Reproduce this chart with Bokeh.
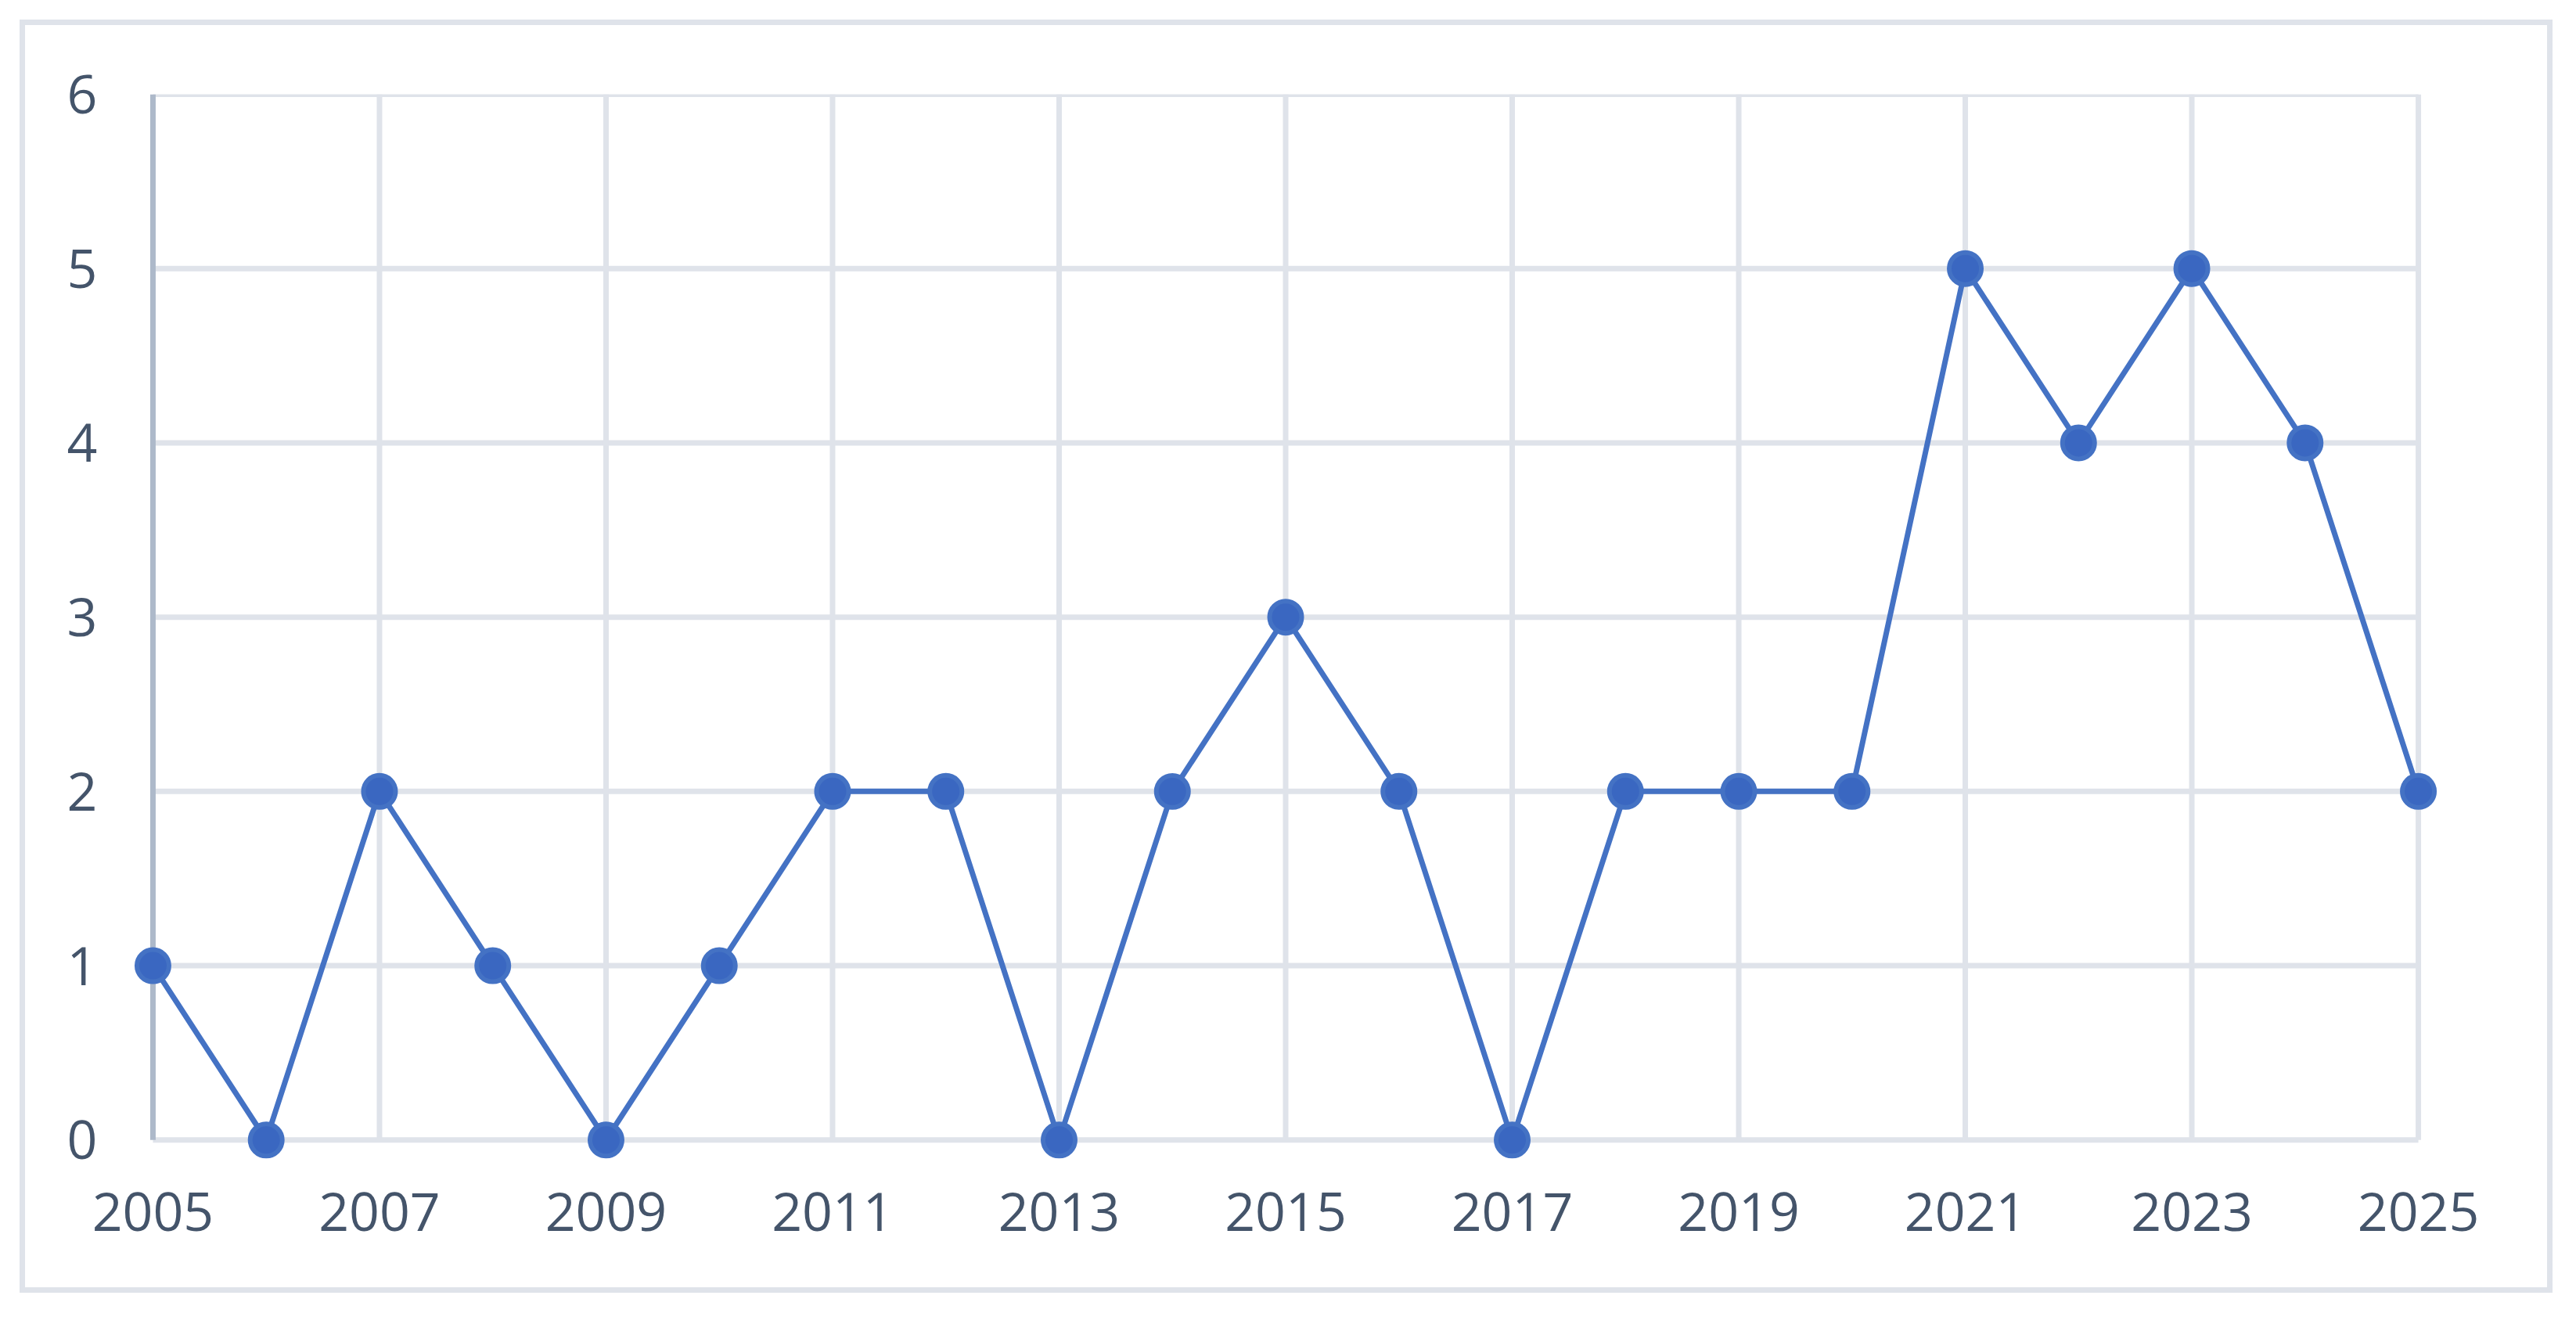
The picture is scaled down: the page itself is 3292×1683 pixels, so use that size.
from bokeh.plotting import figure
from bokeh.models import Range1d, FixedTicker
from bokeh.embed import file_html
from bokeh.resources import INLINE

# ---- data ----
years = [2005, 2006, 2007, 2008, 2009, 2010, 2011, 2012, 2013, 2014, 2015,
         2016, 2017, 2018, 2019, 2020, 2021, 2022, 2023, 2024, 2025]
counts = [1, 0, 2, 1, 0, 1, 2, 2, 0, 2, 3, 2, 0, 2, 2, 2, 5, 4, 5, 4, 2]
x_ticks = [2005, 2007, 2009, 2011, 2013, 2015, 2017, 2019, 2021, 2023, 2025]
y_ticks = [0, 1, 2, 3, 4, 5, 6]

X0, X1 = x_ticks[0], x_ticks[-1]
Y0, Y1 = y_ticks[0], y_ticks[-1]
PADX, PADY = 0.2, 0.12

GRID = "#dfe3ea"
AXIS = "#adb9ca"
LABEL = "#44546a"
BLUE = "#4472c4"
FONT = "Open Sans"

p = figure(width=3287, height=1677, output_backend="svg", toolbar_location=None,
           x_range=Range1d(X0 - PADX, X1 + PADX), y_range=Range1d(Y0 - PADY, Y1),
           min_border_left=166, min_border_right=168, min_border_top=120,
           min_border_bottom=194, background_fill_color=None,
           border_fill_color=None, outline_line_color=None,
           styles={"outline": "7px solid #dfe3ea", "outline-offset": "-32px",
                   "background-color": "white"})

p.xgrid.visible = False
p.ygrid.visible = False

# gridlines (drawn as data segments so markers at the edges are not clipped)
p.segment(x0=[X0] * len(y_ticks), x1=[X1] * len(y_ticks), y0=y_ticks, y1=y_ticks,
          line_color=GRID, line_width=7)
vx = x_ticks[1:]
p.segment(x0=vx, x1=vx, y0=[Y0] * len(vx), y1=[Y1] * len(vx),
          line_color=GRID, line_width=7)
# left axis line
p.segment(x0=[X0], x1=[X0], y0=[Y0], y1=[Y1], line_color=AXIS, line_width=7)

# series
p.line(years, counts, line_color=BLUE, line_width=7)
p.scatter(years, counts, size=41, fill_color="#3a67c1", line_color=BLUE, line_width=6)

# axes: labels only
for ax in (p.xaxis[0], p.yaxis[0]):
    ax.axis_line_color = None
    ax.major_tick_line_color = None
    ax.minor_tick_line_color = None
    ax.major_tick_out = 0
    ax.major_tick_in = 0
    ax.major_label_text_font = FONT
    ax.major_label_text_font_size = "68px"
    ax.major_label_text_color = LABEL

p.xaxis[0].ticker = FixedTicker(ticks=x_ticks)
p.yaxis[0].ticker = FixedTicker(ticks=y_ticks)
p.xaxis[0].major_label_standoff = 40
p.yaxis[0].major_label_standoff = 42

open("out.html", "w").write(file_html(p, INLINE))
